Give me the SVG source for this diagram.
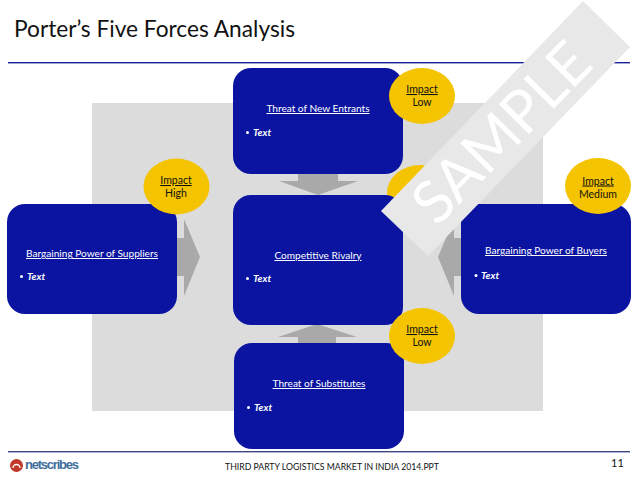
<svg xmlns="http://www.w3.org/2000/svg" width="638" height="479" viewBox="0 0 638 479">
<style>
text{font-family:"Lato","Open Sans","Liberation Sans",sans-serif}
.box{fill:#0a14a0}
.arrow{fill:#a9a9a9}
.badge{fill:#f5c400}
.h{font-size:10.1px;fill:#fff;text-anchor:middle;text-decoration:underline}
.b{font-size:10.1px;fill:#fff;font-style:italic;font-weight:700}
.d{fill:#fff}
.i{font-size:10.5px;fill:#111;text-anchor:middle}
</style>
<rect x="0" y="0" width="638" height="479" fill="#fff"/>
<text id="title" x="14" y="37" font-size="22.7" fill="#111">Porter’s Five Forces Analysis</text>
<rect x="8" y="62" width="622" height="1.4" fill="#1a1f9a"/>
<rect x="92" y="103" width="451" height="308" fill="#dcdcdc"/>
<g id="connectors">
<polygon class="arrow" points="177,238 184,238 184,219 200,257 184,296 184,276 177,276"/>
<polygon class="arrow" points="461,238 454,238 454,219 438,257 454,296 454,276 461,276"/>
<polygon class="arrow" points="298,174 338,174 338,181 358,181 318,195 279,181 298,181"/>
<polygon class="arrow" points="298,344 336,344 336,337 357,337 317,324 278,337 298,337"/>
</g>
<g id="rivalry-badge"><ellipse class="badge" cx="420" cy="193" rx="33" ry="28"/></g>
<g id="entrants">
<rect class="box" x="233" y="68" width="170" height="106" rx="18"/>
<text class="h" x="318" y="112">Threat of New Entrants</text>
<circle class="d" cx="247.500" cy="132.500" r="1.500"/>
<text class="b" x="253" y="136">Text</text>
</g>
<g id="entrants-badge">
<ellipse class="badge" cx="422" cy="96" rx="33" ry="28"/>
<text class="i" x="422" y="93" text-decoration="underline">Impact</text>
<text class="i" x="422" y="106">Low</text>
</g>
<g id="rivalry">
<rect class="box" x="233" y="195" width="170" height="130" rx="18"/>
<text class="h" x="318" y="259">Competitive Rivalry</text>
<circle class="d" cx="247.500" cy="278.500" r="1.500"/>
<text class="b" x="253" y="282">Text</text>
</g>
<g id="suppliers">
<rect class="box" x="7" y="204" width="170" height="110" rx="18"/>
<text class="h" x="92" y="257">Bargaining Power of Suppliers</text>
<circle class="d" cx="21.500" cy="276.500" r="1.500"/>
<text class="b" x="27" y="280">Text</text>
</g>
<g id="suppliers-badge">
<ellipse class="badge" cx="176.500" cy="186.500" rx="33" ry="28"/>
<text class="i" x="176" y="184" text-decoration="underline">Impact</text>
<text class="i" x="176" y="197">High</text>
</g>
<g id="buyers">
<rect class="box" x="461" y="204" width="170" height="110" rx="18"/>
<text class="h" x="546" y="254">Bargaining Power of Buyers</text>
<circle class="d" cx="476" cy="275.500" r="1.500"/>
<text class="b" x="481" y="279">Text</text>
</g>
<g id="buyers-badge">
<ellipse class="badge" cx="598" cy="186" rx="33" ry="28"/>
<text class="i" x="598" y="184.500" text-decoration="underline">Impact</text>
<text class="i" x="598" y="197.500">Medium</text>
</g>
<g id="substitutes">
<rect class="box" x="234" y="343" width="170" height="106" rx="18"/>
<text class="h" x="319" y="387">Threat of Substitutes</text>
<circle class="d" cx="248.500" cy="407.500" r="1.500"/>
<text class="b" x="254" y="411">Text</text>
</g>
<g id="substitutes-badge">
<ellipse class="badge" cx="422" cy="336" rx="33" ry="28"/>
<text class="i" x="422" y="333" text-decoration="underline">Impact</text>
<text class="i" x="422" y="346">Low</text>
</g>
<g id="watermark">
<polygon points="583,1 630,47 428,256 381,211" fill="#e8e8e8"/>
<text x="0" y="0" font-size="59" fill="#fff" text-anchor="middle" transform="translate(516,147) rotate(-45.500)">SAMPLE</text>
</g>
<rect x="8" y="451" width="622" height="1.4" fill="#3c4680"/>
<g id="logo">
<circle cx="16.500" cy="465.500" r="6.500" fill="#c0392b"/>
<path d="M13,468 A3.500,3.500 0 1 1 20,468" fill="none" stroke="#fff" stroke-width="1.300"/>
<text x="25" y="468.500" font-size="13" font-weight="700" fill="#3f6f9e" style="font-family:'Liberation Sans',sans-serif" textLength="54">netscribes</text>
</g>
<text id="footer" x="225" y="470" font-size="8.7" fill="#111">THIRD PARTY LOGISTICS MARKET IN INDIA 2014.PPT</text>
<text id="page" x="611" y="467" font-size="11" fill="#111">11</text>
</svg>
